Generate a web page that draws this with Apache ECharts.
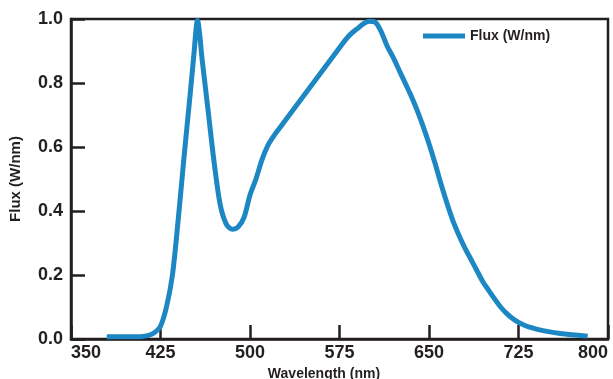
<!DOCTYPE html>
<html>
<head>
<meta charset="utf-8">
<script src="https://cdn.jsdelivr.net/npm/echarts@6/dist/echarts.min.js"></script>
<style>html,body{margin:0;padding:0;background:#fff}#c{width:613px;height:379px}</style>
</head>
<body>
<div id="c"></div>
<script>
const wavelengths = [380, 385, 390, 395, 400, 405, 410, 415, 420, 425, 430, 435, 440, 445, 450, 453, 456, 460, 465, 470, 475, 480, 485, 490, 495, 500, 505, 510, 515, 520, 525, 530, 535, 540, 545, 550, 555, 560, 565, 570, 575, 580, 585, 590, 595, 600, 605, 610, 615, 620, 625, 630, 635, 640, 645, 650, 655, 660, 665, 670, 675, 680, 685, 690, 695, 700, 705, 710, 715, 720, 725, 730, 735, 740, 750, 760, 770, 783];
const flux = [0.007, 0.007, 0.007, 0.007, 0.007, 0.007, 0.008, 0.011, 0.02, 0.04, 0.10, 0.20, 0.38, 0.58, 0.77, 0.89, 0.995, 0.87, 0.71, 0.55, 0.42, 0.36, 0.343, 0.35, 0.38, 0.45, 0.50, 0.56, 0.605, 0.635, 0.66, 0.685, 0.71, 0.735, 0.76, 0.785, 0.81, 0.835, 0.86, 0.885, 0.91, 0.935, 0.955, 0.97, 0.985, 0.993, 0.99, 0.96, 0.915, 0.88, 0.84, 0.80, 0.76, 0.715, 0.665, 0.61, 0.55, 0.485, 0.425, 0.37, 0.325, 0.285, 0.25, 0.215, 0.18, 0.152, 0.125, 0.10, 0.08, 0.064, 0.052, 0.043, 0.036, 0.031, 0.023, 0.017, 0.013, 0.009];
const seriesName = 'Flux (W/nm)';
const xName = 'Wavelength (nm)';
const yName = 'Flux (W/nm)';

const dark = '#231f20';
const blue = '#1d87c3';
const font = 'Liberation Sans, Arial, sans-serif';

const chart = echarts.init(document.getElementById('c'));
chart.setOption({
  animation: false,
  grid: { left: 71, right: 5, top: 19, bottom: 40, containLabel: false, outerBoundsMode: 'none', show: true, borderColor: dark, borderWidth: 2.5 },
  legend: {
    data: [seriesName], left: 423, top: 29, padding: 0, icon: 'rect', itemWidth: 42, itemHeight: 5,
    textStyle: { fontFamily: font, fontWeight: 'bold', fontSize: 14, color: dark }
  },
  xAxis: {
    type: 'value', min: 350, max: 800, interval: 75,
    name: xName, nameLocation: 'middle', nameGap: 26,
    nameTextStyle: { fontFamily: font, fontWeight: 'bold', fontSize: 14, color: dark, padding: [0, 31, 0, 0] },
    axisLine: { show: true, lineStyle: { color: dark, width: 2.5 } },
    axisTick: { show: true, inside: true, length: 14, lineStyle: { color: dark, width: 2.5 } },
    axisLabel: { fontFamily: font, fontWeight: 'bold', fontSize: 18, color: dark, margin: 5, alignMinLabel: 'left', alignMaxLabel: 'right' },
    splitLine: { show: false }
  },
  yAxis: {
    type: 'value', min: 0, max: 1, interval: 0.2,
    name: yName, nameLocation: 'middle', nameGap: 48,
    nameTextStyle: { fontFamily: font, fontWeight: 'bold', fontSize: 15, color: dark },
    axisLine: { show: true, lineStyle: { color: dark, width: 2.5 } },
    axisTick: { show: true, inside: true, length: 14, lineStyle: { color: dark, width: 2.5 } },
    axisLabel: { fontFamily: font, fontWeight: 'bold', fontSize: 18, color: dark, margin: 8, formatter: v => v.toFixed(1) },
    splitLine: { show: false }
  },
  series: [{
    name: seriesName, type: 'line', showSymbol: false, smooth: 0.3,
    data: wavelengths.map((w, i) => [w, flux[i]]),
    lineStyle: { color: blue, width: 5 }, itemStyle: { color: blue }
  }]
});
</script>
</body>
</html>
